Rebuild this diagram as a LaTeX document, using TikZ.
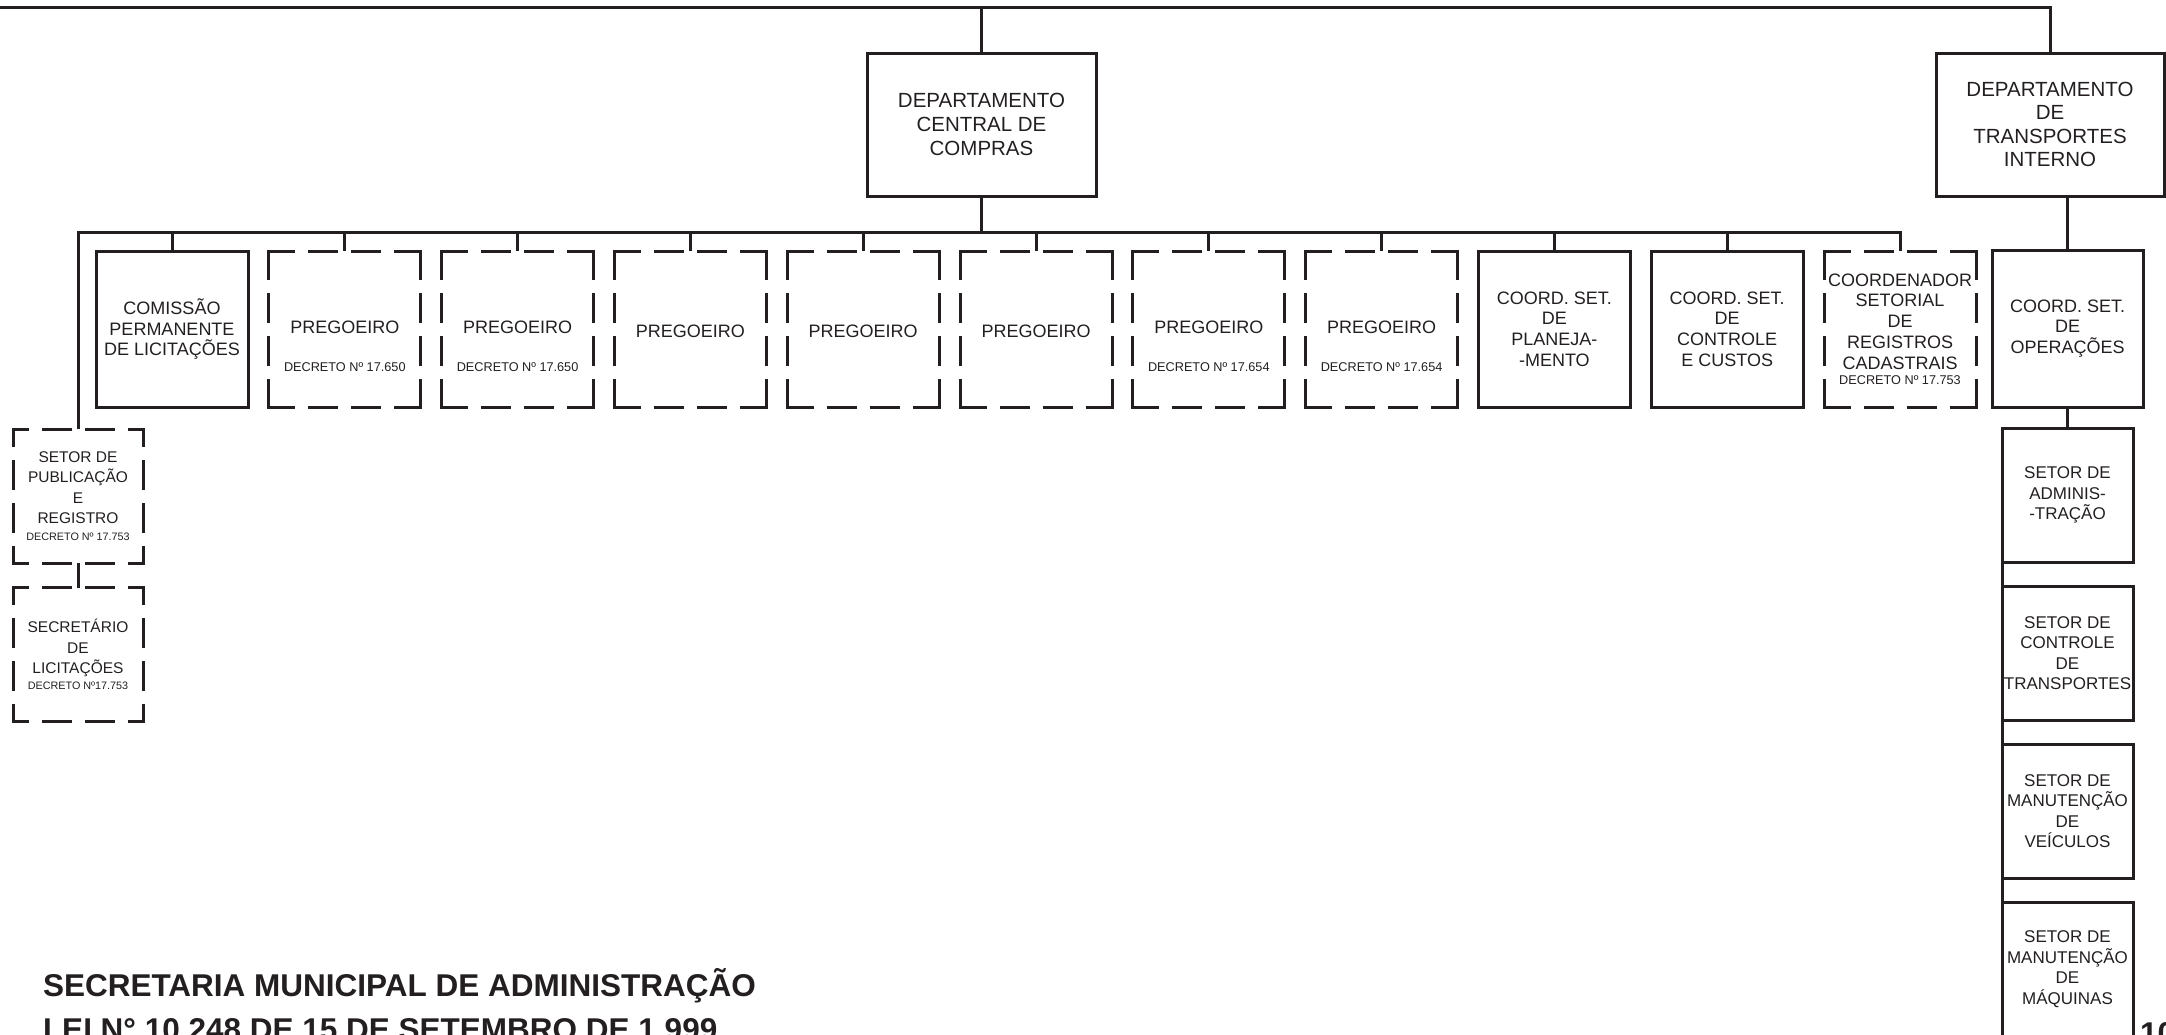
\documentclass[tikz,border=0pt]{standalone}
\usepackage{fontspec}
\setmainfont{Liberation Sans}
\usetikzlibrary{calc}
\definecolor{ink}{RGB}{35,31,32}
\newcommand\deptfont{\fontsize{20.5}{23.6}\selectfont}
\newcommand\rowfont{\fontsize{18}{20.8}\selectfont}
\newcommand\decfont{\fontsize{12.7}{14}\selectfont}
\newcommand\decsmall{\fontsize{10.8}{12}\selectfont}
\newcommand\lsetfont{\fontsize{15.5}{20.3}\selectfont}
\newcommand\rsetfont{\fontsize{17}{20.5}\selectfont}
\newcommand\titlefont{\fontsize{31.5}{36}\selectfont\bfseries}
\newcommand\dframe[3]{%
  \draw[dline,dash phase=#2] (#1.north west) -- (#1.north east);
  \draw[dline,dash phase=#2] (#1.south west) -- (#1.south east);
  \draw[dline,dash phase=#3] (#1.north west) -- (#1.south west);
  \draw[dline,dash phase=#3] (#1.north east) -- (#1.south east);
}
\begin{document}
\begin{tikzpicture}[x=1pt,y=-1pt,
  box/.style={draw=ink, line width=3pt, inner sep=0pt, outer sep=0pt, align=center, text=ink},
  dbox/.style={inner sep=0pt, outer sep=0pt, align=center, text=ink},
  rowsz/.style={minimum width=152pt, minimum height=156pt},
  lsz/.style={minimum width=130pt, minimum height=134pt},
  rsz/.style={minimum width=131pt, minimum height=134pt},
  dline/.style={draw=ink, line width=3pt, dash pattern=on 27pt off 16pt, line cap=rect},
  conn/.style={draw=ink, line width=3pt},
  txt/.style={text=ink, inner sep=0pt, outer sep=0pt}]
\useasboundingbox (0,0) rectangle (2166,1034);

% departments
\node[box, minimum width=229pt, minimum height=143pt, font=\deptfont] (dcc) at (981.5,124.5) {DEPARTAMENTO\\CENTRAL DE\\COMPRAS};
\node[box, minimum width=228pt, minimum height=143pt, font=\deptfont] (dt) at (2050,124.5) {DEPARTAMENTO\\DE\\TRANSPORTES\\INTERNO};

% row
\node[box, rowsz, font=\rowfont] (com) at (172,329) {COMISSÃO\\PERMANENTE\\DE LICITAÇÕES};
\node[dbox, rowsz] (p1) at (344.8,329) {};
\node[dbox, rowsz] (p2) at (517.6,329) {};
\node[dbox, rowsz] (p3) at (690.4,329) {};
\node[dbox, rowsz] (p4) at (863.2,329) {};
\node[dbox, rowsz] (p5) at (1036,329) {};
\node[dbox, rowsz] (p6) at (1208.8,329) {};
\node[dbox, rowsz] (p7) at (1381.6,329) {};
\node[box, rowsz, font=\rowfont] (cpl) at (1554.4,329) {COORD. SET.\\DE\\PLANEJA-\\-MENTO};
\node[box, rowsz, font=\rowfont] (cct) at (1727.2,329) {COORD. SET.\\DE\\CONTROLE\\E CUSTOS};
\node[dbox, rowsz, font=\rowfont] (crc) at (1900,329) {COORDENADOR\\SETORIAL\\DE\\REGISTROS\\CADASTRAIS\\[-5.8pt]{\decfont DECRETO Nº 17.753}};
\node[box, minimum width=151pt, minimum height=157pt, font=\rowfont] (cop) at (2067.5,328.5) {COORD. SET.\\DE\\OPERAÇÕES};

\foreach \n/\d in {p1/17.650, p2/17.650, p6/17.654, p7/17.654} {
  \node[txt, font=\rowfont, anchor=base] (t\n) at ($(\n.center)+(0,4)$) {PREGOEIRO};
  \node[txt, font=\decfont, anchor=base] (d\n) at ($(\n.center)+(0,42)$) {DECRETO Nº \d};
}
\foreach \n in {p3,p4,p5} {
  \node[txt, font=\rowfont, anchor=base] (t\n) at ($(\n.center)+(0,8)$) {PREGOEIRO};
}
\foreach \n in {p1,p2,p3,p4,p5,p6,p7,crc} {\dframe{\n}{2pt}{0pt}}

% left column
\node[dbox, lsz, font=\lsetfont] (spub) at (78,496) {SETOR DE\\PUBLICAÇÃO\\E\\REGISTRO\\[-3.3pt]{\decsmall DECRETO Nº 17.753}};
\node[dbox, lsz, font=\lsetfont] (sec) at (78,654.5) {SECRETÁRIO\\DE\\LICITAÇÕES\\[-4.3pt]{\decsmall DECRETO Nº17.753}};
\dframe{spub}{13pt}{11pt}
\dframe{sec}{13pt}{11pt}

% right column
\node[box, rsz, font=\rsetfont] (adm) at (2067.5,495) {SETOR DE\\ADMINIS-\\-TRAÇÃO};
\node[box, rsz, font=\rsetfont] (ctl) at (2067.5,653) {SETOR DE\\CONTROLE\\DE\\TRANSPORTES};
\node[box, rsz, font=\rsetfont] (vei) at (2067.5,811) {SETOR DE\\MANUTENÇÃO\\DE\\VEÍCULOS};
\node[box, rsz, font=\rsetfont] (maq) at (2067.5,969) {SETOR DE\\MANUTENÇÃO\\DE\\MÁQUINAS};

% connectors
\coordinate (tl) at (0,7);
\coordinate (busy) at (0,232.5);
\draw[conn] (tl) -- (dt.north |- tl) -- (dt.north);
\draw[conn] (dcc.north |- tl) -- (dcc.north);
\draw[conn] (dcc.south) -- (dcc.south |- busy);
\draw[conn] (spub.north) -- (spub.north |- busy) -- (crc.north |- busy) -- (crc.north);
\foreach \n in {com,p1,p2,p3,p4,p5,p6,p7,cpl,cct} {\draw[conn] (\n.north) -- (\n.north |- busy);}
\draw[conn] (spub.south) -- (sec.north);
\draw[conn] (cop.north) -- (cop.north |- dt.south);
\draw[conn] (cop.south) -- (adm.north);
\draw[conn] (adm.south west) -- (ctl.north west);
\draw[conn] (ctl.south west) -- (vei.north west);
\draw[conn] (vei.south west) -- (maq.north west);

% titles
\node[txt, font=\titlefont, anchor=base west] (title) at (43,996) {SECRETARIA MUNICIPAL DE ADMINISTRAÇÃO};
\node[txt, font=\titlefont, anchor=base west] (lei) at (43,1040) {LEI N° 10.248 DE 15 DE SETEMBRO DE 1.999};
\node[txt, font=\titlefont, anchor=base west] (pg) at (2140,1044) {10};
\end{tikzpicture}
\end{document}
